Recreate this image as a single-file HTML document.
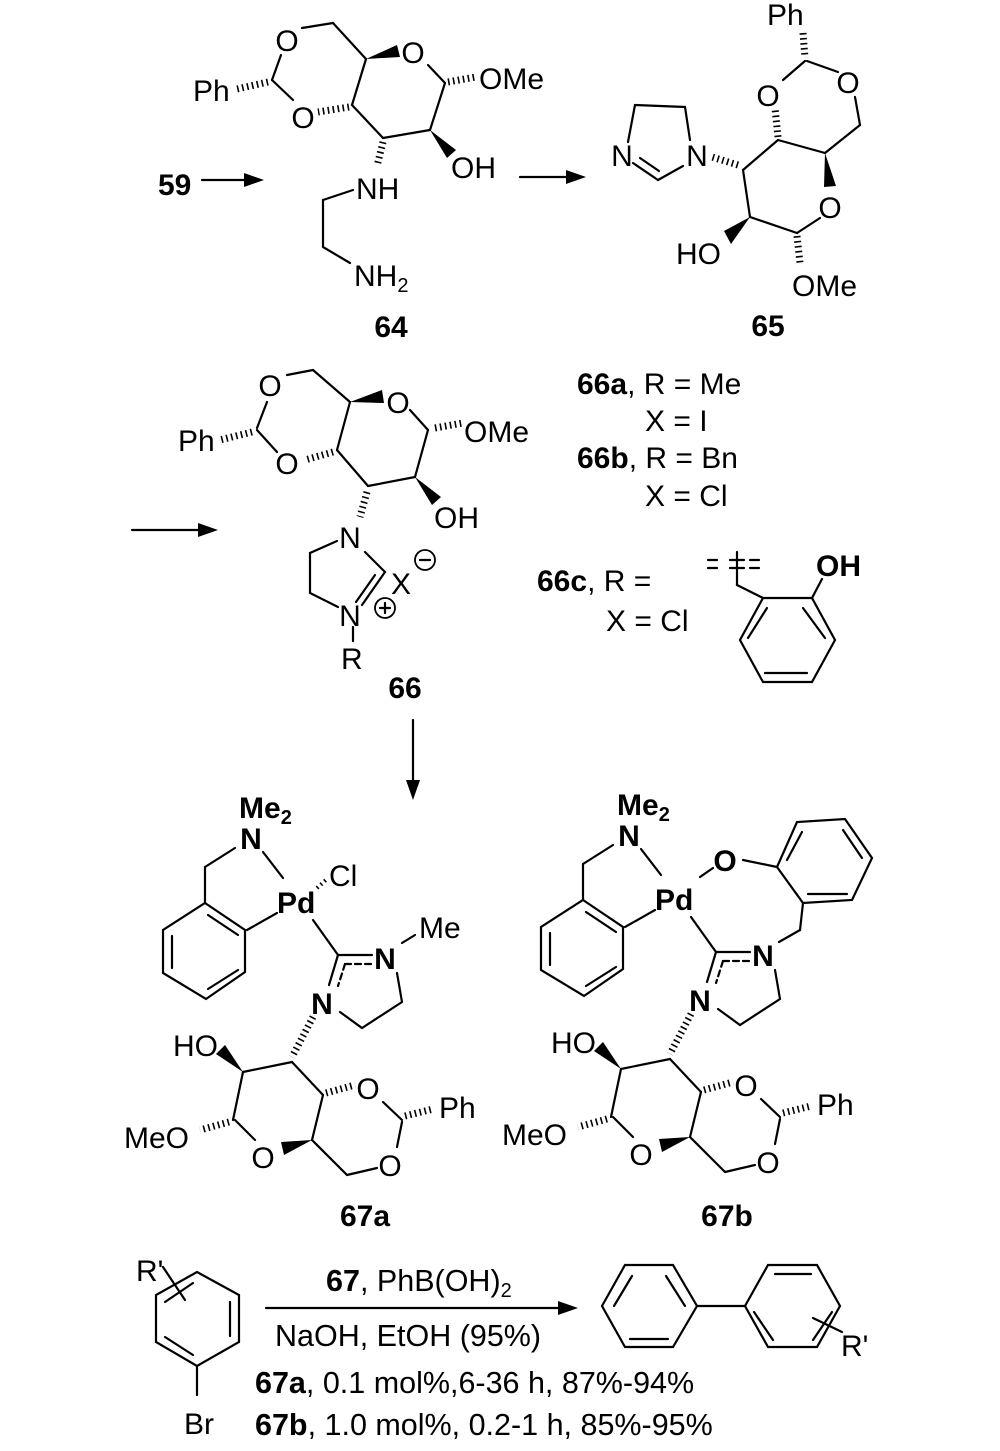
<!DOCTYPE html>
<html><head><meta charset="utf-8"><style>
html,body{margin:0;padding:0;background:#fff}
svg{display:block}
text{font-family:"Liberation Sans",Arial,sans-serif;font-size:30px;fill:#000}
.b{font-weight:bold}
.m{text-anchor:middle}
line,polyline,polygon.r{stroke:#000;stroke-width:2.2;fill:none;stroke-linecap:round}
.h{stroke-width:7;stroke-dasharray:1.6 3.4;stroke-linecap:butt}
.d{stroke-dasharray:6 4}
.w{fill:#000;stroke:none}
</style></head><body>
<svg width="1000" height="1451" viewBox="0 0 1000 1451" xmlns="http://www.w3.org/2000/svg">
<text x="158" y="195" class="b">59</text>
<line x1="202" y1="180" x2="248" y2="180"/><polygon class="w" points="264,180 244,173 244,187"/>
<text x="287" y="51" class="m">O</text>
<text x="303" y="128" class="m">O</text>
<text x="413" y="63" class="m">O</text>
<text x="193" y="101">Ph</text>
<text x="479" y="89">OMe</text>
<text x="451" y="178">OH</text>
<text x="356" y="199">NH</text>
<text x="354" y="286">NH<tspan font-size="20" dy="6">2</tspan></text>
<text x="391" y="337" class="m b">64</text>
<line x1="302" y1="28" x2="333" y2="23"/>
<line x1="333" y1="23" x2="366" y2="59"/>
<polygon class="w" points="366,59 397,45 400,57"/>
<line x1="428" y1="65" x2="445" y2="83"/>
<line x1="448" y1="82" x2="476" y2="77" class="h"/>
<line x1="445" y1="83" x2="430" y2="130"/>
<polygon class="w" points="430,130 447,158 456,150"/>
<line x1="430" y1="130" x2="383" y2="138"/>
<line x1="383" y1="138" x2="352" y2="105"/>
<line x1="352" y1="105" x2="366" y2="59"/>
<line x1="349" y1="107" x2="318" y2="112" class="h"/>
<line x1="293" y1="100" x2="272" y2="80"/>
<line x1="272" y1="80" x2="281" y2="55"/>
<line x1="268" y1="82" x2="237" y2="89" class="h"/>
<line x1="383" y1="142" x2="377" y2="166" class="h"/>
<polyline points="353,190 323,200 323,247 350,263"/>
<line x1="520" y1="177" x2="570" y2="177"/><polygon class="w" points="586,177 566,170 566,184"/>
<text x="767" y="25">Ph</text>
<line x1="803" y1="33" x2="805" y2="58" class="h"/>
<text x="768" y="106" class="m">O</text>
<text x="848" y="93" class="m">O</text>
<line x1="805" y1="61" x2="783" y2="80"/>
<line x1="807" y1="61" x2="838" y2="72"/>
<line x1="855" y1="97" x2="860" y2="125"/>
<line x1="860" y1="125" x2="825" y2="153"/>
<polygon class="w" points="825,153 824,187 836,186"/>
<text x="830" y="218" class="m">O</text>
<line x1="820" y1="218" x2="797" y2="233"/>
<line x1="797" y1="236" x2="800" y2="263" class="h"/>
<text x="792" y="296">OMe</text>
<line x1="797" y1="233" x2="750" y2="217"/>
<polygon class="w" points="750,217 724,231 731,244"/>
<text x="676" y="264">HO</text>
<line x1="750" y1="217" x2="743" y2="170"/>
<line x1="743" y1="170" x2="778" y2="140"/>
<line x1="778" y1="140" x2="825" y2="153"/>
<line x1="778" y1="137" x2="775" y2="108" class="h"/>
<line x1="738" y1="165" x2="712" y2="157" class="h"/>
<text x="697" y="166" class="m">N</text>
<text x="622" y="166" class="m">N</text>
<polyline points="690,140 685,107 635,105 628,142"/>
<line x1="633" y1="163" x2="658" y2="180"/>
<line x1="640" y1="158" x2="659" y2="171"/>
<line x1="658" y1="180" x2="683" y2="166"/>
<text x="768" y="336" class="m b">65</text>
<line x1="132" y1="530" x2="202" y2="530"/><polygon class="w" points="218,530 198,523 198,537"/>
<text x="270" y="396" class="m">O</text>
<text x="287" y="474" class="m">O</text>
<text x="398" y="413" class="m">O</text>
<text x="178" y="451">Ph</text>
<text x="464" y="442">OMe</text>
<text x="434" y="528">OH</text>
<line x1="287" y1="375" x2="313" y2="370"/>
<line x1="313" y1="370" x2="350" y2="402"/>
<polygon class="w" points="350,402 382,390 384,403"/>
<line x1="410" y1="410" x2="428" y2="430"/>
<line x1="435" y1="428" x2="463" y2="423" class="h"/>
<line x1="428" y1="430" x2="415" y2="477"/>
<polygon class="w" points="415,477 432,505 441,497"/>
<line x1="415" y1="477" x2="368" y2="486"/>
<line x1="368" y1="486" x2="337" y2="450"/>
<line x1="337" y1="450" x2="350" y2="402"/>
<line x1="333" y1="452" x2="305" y2="460" class="h"/>
<line x1="277" y1="452" x2="257" y2="430"/>
<line x1="257" y1="428" x2="267" y2="402"/>
<line x1="252" y1="432" x2="220" y2="440" class="h"/>
<line x1="367" y1="492" x2="360" y2="517" class="h"/>
<text x="350" y="548" class="m">N</text>
<text x="350" y="626" class="m">N</text>
<line x1="365" y1="552" x2="385" y2="572"/>
<line x1="385" y1="572" x2="362" y2="605"/>
<line x1="375" y1="575" x2="356" y2="602"/>
<polyline points="338,607 310,593 310,553 337,541"/>
<line x1="353" y1="627" x2="353" y2="641"/>
<text x="341" y="669">R</text>
<text x="391" y="594">X</text>
<circle cx="425" cy="560" r="10" fill="none" stroke="#000" stroke-width="1.8"/><line x1="420" y1="560" x2="430" y2="560"/>
<circle cx="385" cy="608" r="10" fill="none" stroke="#000" stroke-width="1.8"/><line x1="380" y1="608" x2="390" y2="608"/><line x1="385" y1="603" x2="385" y2="613"/>
<text x="405" y="698" class="m b">66</text>
<text x="577" y="394"><tspan class="b">66a</tspan>, R = Me</text>
<text x="645" y="431">X = I</text>
<text x="577" y="468"><tspan class="b">66b</tspan>, R = Bn</text>
<text x="645" y="506">X = Cl</text>
<text x="537" y="591"><tspan class="b">66c</tspan>, R =</text>
<text x="606" y="631">X = Cl</text>
<polygon class="r" points="763,598 812,598 835,640 812,682 763,682 740,640"/>
<line x1="748" y1="638" x2="767" y2="608"/>
<line x1="803" y1="608" x2="825" y2="638"/>
<line x1="765" y1="673" x2="807" y2="673"/>
<line x1="763" y1="598" x2="737" y2="585"/>
<line x1="737" y1="585" x2="737" y2="552"/>
<line x1="708" y1="560" x2="717" y2="560"/><line x1="708" y1="568" x2="717" y2="568"/>
<line x1="730" y1="560" x2="744" y2="560"/><line x1="730" y1="568" x2="744" y2="568"/>
<line x1="750" y1="560" x2="759" y2="560"/><line x1="750" y1="568" x2="759" y2="568"/>
<line x1="812" y1="598" x2="822" y2="579"/>
<text x="816" y="576" class="b">OH</text>
<line x1="413" y1="720" x2="413" y2="782"/><polygon class="w" points="413,800 406,780 420,780"/>

<g>
<text x="239" y="818" class="b">Me<tspan font-size="20" dy="6">2</tspan></text>
<text x="251" y="849" class="m b">N</text>
<line x1="235" y1="848" x2="205" y2="867"/>
<line x1="205" y1="867" x2="205" y2="903"/>
<line x1="263" y1="852" x2="283" y2="878"/>
<text x="277" y="913" class="b">Pd</text>
<polygon class="r" points="205,903 245,930 245,972 206,999 163,973 163,930"/>
<line x1="208" y1="915" x2="238" y2="935"/>
<line x1="172" y1="936" x2="172" y2="968"/>
<line x1="208" y1="989" x2="238" y2="970"/>
<line x1="247" y1="930" x2="277" y2="913"/>
<line x1="313" y1="920" x2="338" y2="955"/>
<line x1="338" y1="955" x2="372" y2="955"/>
<line x1="345" y1="964" x2="372" y2="964" class="d"/>
<text x="385" y="969" class="m b">N</text>
<line x1="338" y1="955" x2="329" y2="985"/>
<line x1="345" y1="964" x2="338" y2="986" class="d"/>
<text x="322" y="1014" class="m b">N</text>
<polyline points="397,973 402,1002 362,1028 340,1012"/>
<line x1="313" y1="1017" x2="292" y2="1057" class="h"/>
<line x1="292" y1="1062" x2="243" y2="1072"/>
<polygon class="w" points="243,1072 216,1054 225,1045"/>
<text x="173" y="1056">HO</text>
<line x1="243" y1="1072" x2="233" y2="1120"/>
<line x1="229" y1="1122" x2="200" y2="1130" class="h"/>
<text x="124" y="1148">MeO</text>
<line x1="235" y1="1120" x2="255" y2="1140"/>
<text x="263" y="1168" class="m">O</text>
<polygon class="w" points="312,1140 281,1142 284,1155"/>
<line x1="312" y1="1140" x2="323" y2="1095"/>
<line x1="323" y1="1095" x2="292" y2="1062"/>
<line x1="326" y1="1093" x2="355" y2="1085" class="h"/>
<text x="368" y="1099" class="m">O</text>
<line x1="383" y1="1102" x2="402" y2="1120"/>
<line x1="405" y1="1116" x2="433" y2="1109" class="h"/>
<text x="439" y="1118">Ph</text>
<line x1="402" y1="1122" x2="397" y2="1147"/>
<text x="390" y="1176" class="m">O</text>
<line x1="377" y1="1168" x2="347" y2="1175"/>
<line x1="347" y1="1175" x2="312" y2="1140"/>
</g>
<line x1="317" y1="888" x2="327" y2="879" class="h" style="stroke-width:4"/>
<text x="329" y="886">Cl</text>
<line x1="402" y1="943" x2="415" y2="935"/>
<text x="419" y="938">Me</text>
<text x="365" y="1226" class="m b">67a</text>

<g transform="translate(378,-3)">
<text x="239" y="818" class="b">Me<tspan font-size="20" dy="6">2</tspan></text>
<text x="251" y="849" class="m b">N</text>
<line x1="235" y1="848" x2="205" y2="867"/>
<line x1="205" y1="867" x2="205" y2="903"/>
<line x1="263" y1="852" x2="283" y2="878"/>
<text x="277" y="913" class="b">Pd</text>
<polygon class="r" points="205,903 245,930 245,972 206,999 163,973 163,930"/>
<line x1="208" y1="915" x2="238" y2="935"/>
<line x1="172" y1="936" x2="172" y2="968"/>
<line x1="208" y1="989" x2="238" y2="970"/>
<line x1="247" y1="930" x2="277" y2="913"/>
<line x1="313" y1="920" x2="338" y2="955"/>
<line x1="338" y1="955" x2="372" y2="955"/>
<line x1="345" y1="964" x2="372" y2="964" class="d"/>
<text x="385" y="969" class="m b">N</text>
<line x1="338" y1="955" x2="329" y2="985"/>
<line x1="345" y1="964" x2="338" y2="986" class="d"/>
<text x="322" y="1014" class="m b">N</text>
<polyline points="397,973 402,1002 362,1028 340,1012"/>
<line x1="313" y1="1017" x2="292" y2="1057" class="h"/>
<line x1="292" y1="1062" x2="243" y2="1072"/>
<polygon class="w" points="243,1072 216,1054 225,1045"/>
<text x="173" y="1056">HO</text>
<line x1="243" y1="1072" x2="233" y2="1120"/>
<line x1="229" y1="1122" x2="200" y2="1130" class="h"/>
<text x="124" y="1148">MeO</text>
<line x1="235" y1="1120" x2="255" y2="1140"/>
<text x="263" y="1168" class="m">O</text>
<polygon class="w" points="312,1140 281,1142 284,1155"/>
<line x1="312" y1="1140" x2="323" y2="1095"/>
<line x1="323" y1="1095" x2="292" y2="1062"/>
<line x1="326" y1="1093" x2="355" y2="1085" class="h"/>
<text x="368" y="1099" class="m">O</text>
<line x1="383" y1="1102" x2="402" y2="1120"/>
<line x1="405" y1="1116" x2="433" y2="1109" class="h"/>
<text x="439" y="1118">Ph</text>
<line x1="402" y1="1122" x2="397" y2="1147"/>
<text x="390" y="1176" class="m">O</text>
<line x1="377" y1="1168" x2="347" y2="1175"/>
<line x1="347" y1="1175" x2="312" y2="1140"/>
</g>
<line x1="700" y1="877" x2="713" y2="868"/>
<text x="725" y="871" class="m b">O</text>
<line x1="743" y1="860" x2="777" y2="867"/>
<polygon class="r" points="777,867 797,822 845,819 872,858 852,900 803,903"/>
<line x1="787" y1="860" x2="802" y2="832"/>
<line x1="843" y1="830" x2="862" y2="858"/>
<line x1="808" y1="894" x2="847" y2="894"/>
<line x1="803" y1="903" x2="800" y2="930"/>
<line x1="800" y1="930" x2="779" y2="942"/>
<text x="727" y="1226" class="m b">67b</text>

<text x="136" y="1281">R'</text>
<polygon class="r" points="197,1272 239,1295 239,1342 197,1366 156,1342 156,1295"/>
<line x1="230" y1="1302" x2="230" y2="1336"/>
<line x1="165" y1="1302" x2="193" y2="1283"/>
<line x1="165" y1="1337" x2="193" y2="1355"/>
<line x1="163" y1="1267" x2="185" y2="1300"/>
<line x1="197" y1="1366" x2="197" y2="1395"/>
<text x="184" y="1434">Br</text>
<line x1="266" y1="1308" x2="560" y2="1308"/><polygon class="w" points="578,1308 558,1301 558,1315"/>
<text x="326" y="1291" style="font-size:30.5px"><tspan class="b">67</tspan>, PhB(OH)<tspan font-size="20" dy="6">2</tspan></text>
<text x="275" y="1346" style="font-size:30.5px">NaOH, EtOH (95%)</text>
<text x="255" y="1393" style="font-size:30.5px"><tspan class="b">67a</tspan>, 0.1 mol%,6-36 h, 87%-94%</text>
<text x="255" y="1435" style="font-size:30.5px"><tspan class="b">67b</tspan>, 1.0 mol%, 0.2-1 h, 85%-95%</text>
<polygon class="r" points="602,1306 625,1265 673,1265 697,1306 673,1347 625,1347"/>
<line x1="632" y1="1276" x2="614" y2="1306"/>
<line x1="666" y1="1276" x2="685" y2="1306"/>
<line x1="630" y1="1339" x2="668" y2="1339"/>
<line x1="697" y1="1306" x2="745" y2="1306"/>
<polygon class="r" points="745,1306 768,1265 817,1265 840,1306 817,1347 768,1347"/>
<line x1="775" y1="1274" x2="811" y2="1274"/>
<line x1="754" y1="1312" x2="773" y2="1340"/>
<line x1="832" y1="1312" x2="813" y2="1340"/>
<line x1="813" y1="1318" x2="842" y2="1332"/>
<text x="841" y="1356">R'</text>
</svg>
</body></html>
